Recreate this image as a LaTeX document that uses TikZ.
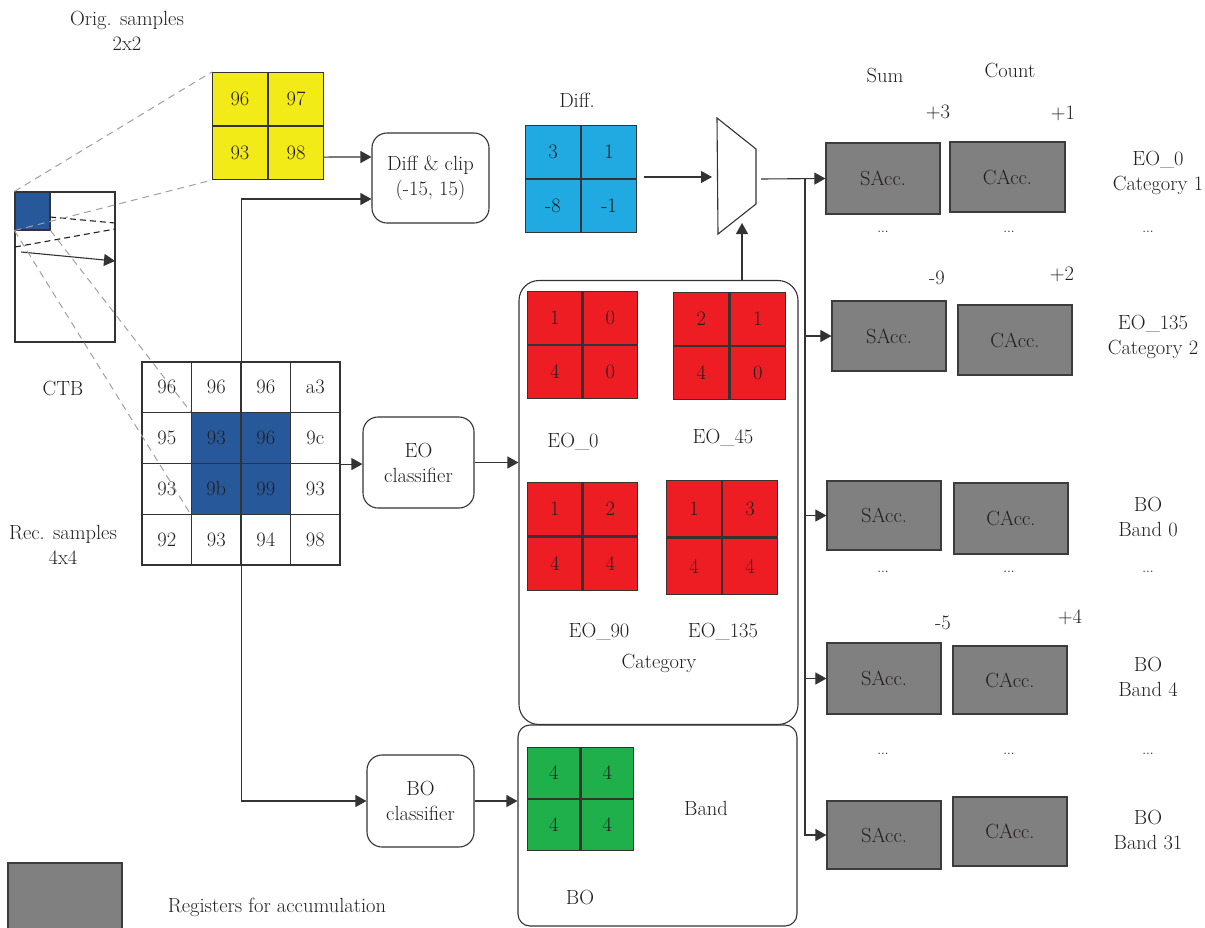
\documentclass[tikz,border=0pt]{standalone}
\usepackage{fontspec}
\usetikzlibrary{arrows.meta}
\definecolor{linec}{HTML}{333333}
\definecolor{textc}{HTML}{231F20}
\definecolor{yel}{HTML}{F2EB17}
\definecolor{cyanc}{HTML}{21AAE1}
\definecolor{redc}{HTML}{EE1D23}
\definecolor{grnc}{HTML}{1FAF4B}
\definecolor{blk}{HTML}{27589A}
\definecolor{reggray}{HTML}{808080}
\definecolor{regborder}{HTML}{3C3C3C}
\definecolor{dashgray}{HTML}{A0A0A0}
\newcommand\quadgrid[7]{%
  \node[cell,#3,anchor=south east] (#1a) at #2 {#4};
  \node[cell,#3,anchor=south west] (#1b) at #2 {#5};
  \node[cell,#3,anchor=north east] (#1c) at #2 {#6};
  \node[cell,#3,anchor=north west] (#1d) at #2 {#7};
}
\begin{document}
\begin{tikzpicture}[x=1pt,y=-1pt,
  font=\fontsize{20.5}{25}\selectfont, text=textc,
  wire/.style={draw=linec, line width=1.1pt},
  arr/.style={draw=linec, line width=1.1pt, -{Triangle[length=11pt,width=12pt]}},
  cell/.style={draw=linec, line width=1.1pt, inner sep=0pt},
  proc/.style={draw=linec, line width=1.1pt, rounded corners=15pt, align=center, inner sep=0pt, fill=white},
  container/.style={draw=linec, line width=1.1pt, rounded corners=20pt, inner sep=0pt},
  reg/.style={draw=regborder, fill=reggray, line width=1.2pt, inner sep=0pt},
  lbl/.style={align=center, inner sep=0pt},
  dots/.style={inner sep=0pt, font=\fontsize{14}{16}\selectfont},
  zoomline/.style={draw=dashgray, line width=1pt, dash pattern=on 7pt off 5pt},
  ctbdash/.style={draw=textc, line width=1.1pt, dash pattern=on 6pt off 4pt}]
\useasboundingbox (0,0) rectangle (1205,927);

% ---------------- left part ----------------
\node[lbl] (origlbl) at (127,31) {Orig. samples\\2x2};
\node[cell, fill=white, minimum width=100pt, minimum height=150pt] (ctb) at (65,267) {};
\node[cell, fill=blk, minimum width=35pt, minimum height=38pt] (ctbblk) at (32.5,211) {};
\draw[ctbdash] (50,217) -- (115,223);
\draw[ctbdash] (15,247) -- (115,229);
\draw[arr] (21,252) -- (115,261);
\node[lbl] (ctblbl) at (63,388) {CTB};
\node[lbl] (reclbl) at (63,545) {Rec. samples\\4x4};

% yellow original samples
\quadgrid{yel}{(268,126)}{fill=yel, minimum width=55pt, minimum height=53pt}{96}{97}{93}{98}

% 4x4 reconstructed samples
\foreach \r/\c/\v/\f in {0/0/96/white,0/1/96/white,0/2/96/white,0/3/a3/white,
                         1/0/95/white,1/1/93/blk,1/2/96/blk,1/3/9c/white,
                         2/0/93/white,2/1/9b/blk,2/2/99/blk,2/3/93/white,
                         3/0/92/white,3/1/93/white,3/2/94/white,3/3/98/white}{
  \node[cell, fill=\f, minimum width=49.5pt, minimum height=50.75pt] (r\r\c)
    at ({142+49.5*(\c+0.5)},{362+50.75*(\r+0.5)}) {\v};
}

% zoom lines
\draw[zoomline] (ctbblk.north west) -- (yela.north west);
\draw[zoomline] (ctbblk.south west) -- (yelc.south west);
\draw[zoomline] (ctbblk.south west) -- (r21.south west);
\draw[zoomline] (ctbblk.south east) -- (r11.north west);

% processing blocks
\node[proc, minimum width=117pt, minimum height=90pt] (dc) at (430.5,178) {Diff \& clip\\(-15, 15)};
\node[proc, minimum width=111pt, minimum height=91pt] (eoc) at (418.5,462.5) {EO\\classifier};
\node[proc, minimum width=107pt, minimum height=92pt] (boc) at (420.5,801) {BO\\classifier};

\draw[arr] ([yshift=-4pt]yelb.south east |- yeld.east) -- ([yshift=21pt]dc.west);
\draw[arr] (r01.north east) |- ([yshift=-21pt]dc.west);
\draw[arr] (r31.south east) |- (boc.west);
\draw[arr] (r13.south east) -- (r13.south east -| eoc.west);

% diff block
\node[lbl] (difflbl) at (577,100) {Diff.};
\quadgrid{dif}{(581,179)}{fill=cyanc, minimum width=55pt, minimum height=53pt}{3}{1}{-8}{-1}

% mux
\draw[wire, fill=white] (717,118) -- (756,149) -- (756,204) -- (718,234) -- cycle;
\coordinate (muxin) at (712,177);
\coordinate (muxout) at (761,179);
\coordinate (muxbot) at (742,223);
\draw[arr] ([xshift=7pt,yshift=2pt]difb.south east) -- (muxin);

% EO container
\node[container, minimum width=279pt, minimum height=444pt] (eobox) at (658.5,502.5) {};
\quadgrid{eoa}{(582.5,345)}{fill=redc, minimum width=54.5pt, minimum height=53pt}{1}{0}{4}{0}
\quadgrid{eob}{(729.5,346)}{fill=redc, minimum width=55.5pt, minimum height=53pt}{2}{1}{4}{0}
\quadgrid{eoc}{(582.5,536.5)}{fill=redc, minimum width=54.5pt, minimum height=53.5pt}{1}{2}{4}{4}
\quadgrid{eod}{(722,537.5)}{fill=redc, minimum width=55pt, minimum height=56.5pt}{1}{3}{4}{4}
\node[lbl] (eo0lbl) at (573,442) {EO\_0};
\node[lbl] (eo45lbl) at (723,438) {EO\_45};
\node[lbl] (eo90lbl) at (599,632) {EO\_90};
\node[lbl] (eo135lbl) at (723,632) {EO\_135};
\node[lbl] (catlbl) at (659,663) {Category};
\draw[arr] (eoc.east) -- (eoc.east -| eobox.west);
\draw[arr] (eobox.north -| muxbot) -- (muxbot);

% BO container
\node[container, rounded corners=12pt, minimum width=279pt, minimum height=201pt] (bobox) at (657.5,825.5) {};
\quadgrid{grn}{(580.5,799)}{fill=grnc, minimum width=52.5pt, minimum height=51pt}{4}{4}{4}{4}
\node[lbl] (bandlbl) at (706,808) {Band};
\node[lbl] (bolbl) at (580,897) {BO};
\draw[arr] (boc.east) -- (boc.east -| bobox.west);

% ---------------- right part ----------------
\node[lbl] (sumlbl) at (885,75) {Sum};
\node[lbl] (countlbl) at (1010,70) {Count};

\node[reg, minimum width=114pt, minimum height=71pt] (sacc1) at (883,178.5) {SAcc.};
\node[reg, minimum width=115pt, minimum height=70pt] (cacc1) at (1007.5,177) {CAcc.};
\node[reg, minimum width=114pt, minimum height=70pt] (sacc2) at (889,336) {SAcc.};
\node[reg, minimum width=114pt, minimum height=70pt] (cacc2) at (1015,340) {CAcc.};
\node[reg, minimum width=114pt, minimum height=69pt] (sacc3) at (884,515.5) {SAcc.};
\node[reg, minimum width=114pt, minimum height=71pt] (cacc3) at (1011,518.5) {CAcc.};
\node[reg, minimum width=114pt, minimum height=71pt] (sacc4) at (884,678.5) {SAcc.};
\node[reg, minimum width=114pt, minimum height=68pt] (cacc4) at (1010,680) {CAcc.};
\node[reg, minimum width=114pt, minimum height=68pt] (sacc5) at (884,835) {SAcc.};
\node[reg, minimum width=114pt, minimum height=69pt] (cacc5) at (1010,831.5) {CAcc.};

\node[lbl] (p3) at (938,112) {+3};
\node[lbl] (p1) at (1063,113) {+1};
\node[lbl] (m9) at (937,278) {-9};
\node[lbl] (p2) at (1062,274) {+2};
\node[lbl] (m5) at (943,623) {-5};
\node[lbl] (p4) at (1070,617) {+4};

\node[lbl] (l1) at (1158,173) {EO\_0\\Category 1};
\node[lbl] (l2) at (1153,337) {EO\_135\\Category 2};
\node[lbl] (l3) at (1148,517) {BO\\Band 0};
\node[lbl] (l4) at (1148,677) {BO\\Band 4};
\node[lbl] (l5) at (1148,830) {BO\\Band 31};

\foreach \yy/\k in {232/a,572/b,754/c}{
  \node[dots] (ds\k) at (883,\yy) {...};
  \node[dots] (dc\k) at (1009,\yy) {...};
  \node[dots] (dl\k) at (1148,\yy) {...};
}

% bus
\coordinate (bus) at (805,179);
\draw[arr] (muxout) -- (sacc1.west);
\draw[arr] (bus) |- (sacc2.west);
\draw[arr] (bus) |- (sacc3.west);
\draw[arr] (bus) |- (sacc4.west);
\draw[arr] (bus) |- (sacc5.west);

% legend
\node[reg, minimum width=114pt, minimum height=68pt] (legend) at (65,897) {};
\node[lbl] (leglbl) at (277,907) {Registers for accumulation};
\end{tikzpicture}
\end{document}
